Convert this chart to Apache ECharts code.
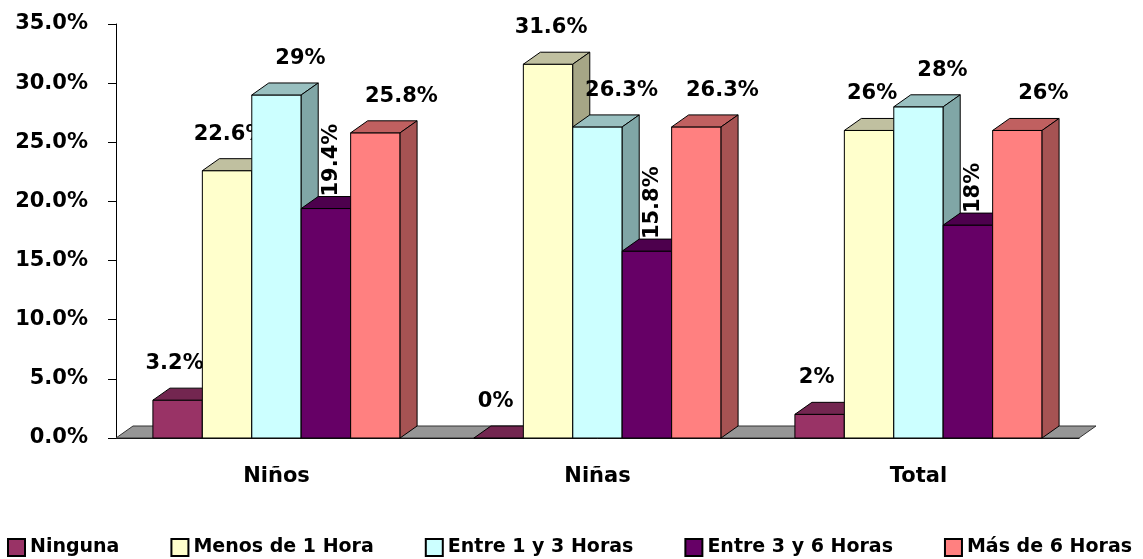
<!DOCTYPE html>
<html>
<head>
<meta charset="utf-8">
<script src="https://cdn.jsdelivr.net/npm/echarts@6/dist/echarts.min.js"></script>
<style>
* { margin: 0; padding: 0; }
body { background: #fff; }
</style>
</head>
<body>
<div id="main" style="width: 1143px;height: 559px;background:#fff"></div>
<script>
// categorias y series (porcentajes)
var categories = ['Niños', 'Niñas', 'Total'];
var seriesNames = ['Ninguna', 'Menos de 1 Hora', 'Entre 1 y 3 Horas', 'Entre 3 y 6 Horas', 'Más de 6 Horas'];
var ninguna = [3.2, 0, 2];
var menos1 = [22.6, 31.6, 26];
var entre1y3 = [29, 26.3, 28];
var entre3y6 = [19.4, 15.8, 18];
var mas6 = [25.8, 26.3, 26];
var labelTexts = [
  ['3.2%', '0%', '2%'],
  ['22.6%', '31.6%', '26%'],
  ['29%', '26.3%', '28%'],
  ['19.4%', '15.8%', '18%'],
  ['25.8%', '26.3%', '26%']
];
var yTicks = [0, 5, 10, 15, 20, 25, 30, 35];

var allValues = [ninguna, menos1, entre1y3, entre3y6, mas6];
// colores: frente, tapa, lateral
var colors = [
  ['#993366', '#732650', '#632142'],
  ['#FFFFCC', '#C0C0A0', '#A6A686'],
  ['#CCFFFF', '#99C0C0', '#80A6A6'],
  ['#660066', '#4D004D', '#420042'],
  ['#FF8080', '#C06060', '#A65353']
];
var labelShift = [-3, 3, 24, 6, 26];

var DX = 17, DY = 12;
var FONT = '"DejaVu Sans", sans-serif';

function makeBar(si) {
  return function (params, api) {
    var cat = api.value(0), val = api.value(1);
    var base = api.coord([cat, 0]);
    var top = api.coord([cat, val]);
    var band = api.size([1, 0])[0];
    var bw = band * 0.77 / 5;
    var x0 = base[0] + (si - 2.5) * bw;
    var x1 = x0 + bw;
    var y0 = base[1], y1 = top[1];
    var c = colors[si];
    var line = { stroke: '#000', lineWidth: 1 };
    var children = [
      { type: 'rect', shape: { x: x0, y: y1, width: bw, height: y0 - y1 },
        style: Object.assign({ fill: c[0] }, line) },
      { type: 'polygon', shape: { points: [[x0, y1], [x1, y1], [x1 + DX, y1 - DY], [x0 + DX, y1 - DY]] },
        style: Object.assign({ fill: c[1] }, line) },
      { type: 'polygon', shape: { points: [[x1, y1], [x1 + DX, y1 - DY], [x1 + DX, y0 - DY], [x1, y0]] },
        style: Object.assign({ fill: c[2] }, line) }
    ];
    var txt = labelTexts[si][params.dataIndex];
    if (si === 3) {
      children.push({ type: 'text', x: (x0 + x1) / 2 + labelShift[si], y: y1 - DY, rotation: Math.PI / 2,
        style: { text: txt, fill: '#000', font: 'bold 21px ' + FONT, align: 'left', verticalAlign: 'middle' } });
    } else {
      children.push({ type: 'text', x: (x0 + x1) / 2 + labelShift[si], y: y1 - 26,
        style: { text: txt, fill: '#000', font: 'bold 21px ' + FONT, align: 'center', verticalAlign: 'bottom' } });
    }
    return { type: 'group', children: children };
  };
}

var series = [{
  name: 'piso',
  type: 'custom',
  silent: true,
  data: [[0, 0]],
  renderItem: function (params, api) {
    var cs = params.coordSys;
    var yb = cs.y + cs.height;
    return {
      type: 'polygon',
      shape: { points: [[cs.x, yb], [cs.x + cs.width, yb], [cs.x + cs.width + DX, yb - DY], [cs.x + DX, yb - DY]] },
      style: { fill: '#969696', stroke: '#333', lineWidth: 1 }
    };
  }
}];
seriesNames.forEach(function (name, si) {
  series.push({
    name: name,
    type: 'custom',
    itemStyle: { color: colors[si][0], borderColor: '#000', borderWidth: 2 },
    encode: { x: 0, y: 1 },
    data: allValues[si].map(function (v, i) { return [i, v]; }),
    renderItem: makeBar(si)
  });
});

var chart = echarts.init(document.getElementById('main'));
chart.setOption({
  animation: false,
  grid: { left: 116, right: 64, top: 24, bottom: 121 },
  legend: {
    data: seriesNames,
    left: 7,
    width: 1136,
    top: 538,
    padding: 0,
    icon: 'rect',
    itemWidth: 17,
    itemHeight: 17,
    itemGap: 51,
    textStyle: { fontFamily: FONT, fontWeight: 'bold', fontSize: 19, color: '#000' }
  },
  xAxis: {
    type: 'category',
    data: categories,
    axisLine: { lineStyle: { color: '#000', width: 1 } },
    axisTick: { length: 8, lineStyle: { color: '#000' } },
    axisLabel: { margin: 28, fontFamily: FONT, fontWeight: 'bold', fontSize: 21, color: '#000' }
  },
  yAxis: {
    type: 'value',
    min: yTicks[0],
    max: yTicks[yTicks.length - 1],
    interval: 5,
    splitLine: { show: false },
    axisLine: { show: true, lineStyle: { color: '#000', width: 1 } },
    axisTick: { show: true, length: 8, lineStyle: { color: '#000' } },
    axisLabel: {
      margin: 28, fontFamily: FONT, fontWeight: 'bold', fontSize: 21, color: '#000',
      formatter: function (v) { return v.toFixed(1) + '%'; }
    }
  },
  series: series
});
</script>
</body>
</html>
